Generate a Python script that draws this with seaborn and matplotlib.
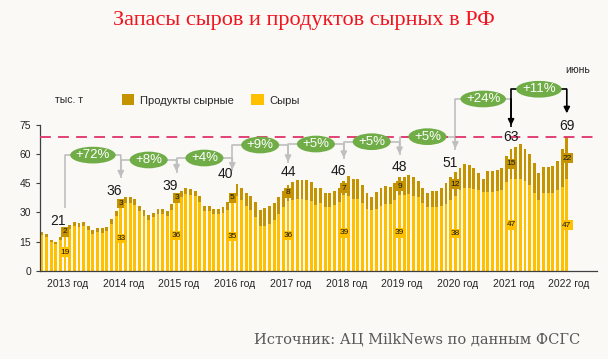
import numpy as np
import pandas as pd
import matplotlib.pyplot as plt
import seaborn as sns
from matplotlib.patches import Ellipse

# годы на оси
years = list(range(2013, 2023))

# сыры, тыс. т, помесячно (январь 2013 - июнь 2022)
cheese = [
    18.5, 17.5, 14.8, 13.6, 15.8, 19.0, 21.5, 23.0, 22.3, 23.0, 20.8, 18.8,  # 2013
    19.8, 19.5, 20.3, 24.0, 28.0, 33.0, 35.0, 35.0, 34.0, 30.5, 28.2, 26.2,  # 2014
    27.5, 29.0, 29.0, 28.3, 31.5, 36.0, 38.0, 39.3, 39.0, 38.2, 35.5, 30.6,  # 2015
    30.8, 29.0, 29.0, 29.6, 31.2, 35.0, 38.5, 36.5, 33.5, 31.0, 27.5, 23.0,  # 2016
    22.8, 24.0, 26.0, 29.0, 33.0, 36.0, 36.5, 37.0, 36.8, 36.5, 36.0, 34.0,  # 2017
    35.0, 33.0, 33.0, 34.0, 35.5, 39.0, 38.5, 37.0, 37.0, 35.0, 32.0, 31.0,  # 2018
    32.0, 33.5, 34.5, 34.5, 36.5, 39.0, 39.0, 39.5, 38.5, 38.0, 35.0, 33.0,  # 2019
    33.0, 33.0, 33.5, 34.5, 36.5, 38.4, 41.5, 42.5, 42.5, 42.0, 41.5, 40.5,  # 2020
    40.5, 40.5, 41.0, 41.5, 45.5, 47.3, 47.0, 47.0, 46.0, 44.0, 40.0, 36.5,  # 2021
    40.0, 40.0, 40.0, 41.5, 43.0, 47.0,                                      # 2022
]

# продукты сырные, тыс. т
products = [
    1.6, 1.4, 1.0, 1.0, 1.4, 2.0, 1.8, 1.9, 2.2, 2.2, 2.2, 2.2,
    2.3, 2.3, 2.3, 2.6, 2.9, 3.0, 3.0, 3.0, 2.8, 3.0, 2.8, 2.6,
    2.3, 2.6, 2.6, 2.6, 2.8, 3.0, 3.0, 3.1, 3.0, 3.0, 2.9, 2.8,
    2.6, 2.6, 2.6, 3.0, 4.3, 5.0, 5.9, 6.2, 6.6, 7.4, 8.0, 8.2,
    9.3, 9.3, 9.0, 8.7, 8.0, 8.0, 9.0, 9.7, 9.9, 10.2, 9.6, 8.4,
    7.7, 7.1, 7.1, 7.0, 6.9, 7.0, 10.2, 10.0, 10.0, 9.1, 7.8, 7.1,
    8.7, 9.2, 9.2, 8.7, 8.8, 9.0, 9.4, 9.7, 9.9, 8.1, 7.4, 6.8,
    8.0, 8.0, 8.9, 10.4, 11.5, 12.4, 11.2, 12.4, 11.9, 10.7, 8.9, 6.5,
    10.8, 10.8, 10.8, 11.2, 13.5, 15.4, 16.8, 18.2, 16.4, 15.9, 15.2, 13.9,
    13.2, 13.2, 13.9, 14.9, 19.4, 22.0,
]

# прирост июнь к июню
growth = ["+72%", "+8%", "+4%", "+9%", "+5%", "+5%", "+5%", "+24%", "+11%"]

C_CHEESE = "#FFC000"
C_PROD = "#C59300"
C_GREEN = "#70AD47"
BG = "#FAF9F6"

sns.set_theme(style="white")
plt.rcParams["font.family"] = ["Liberation Sans", "DejaVu Sans"]

df = pd.DataFrame({"month": np.arange(len(cheese)), "cheese": cheese, "products": products})
df["total"] = df["cheese"] + df["products"]

fig = plt.figure(figsize=(6.08, 3.59), dpi=100)
fig.patch.set_facecolor(BG)
ax = fig.add_axes([39.5 / 608, 1 - 270.7 / 359, (597 - 39.5) / 608, (270.7 - 125) / 359])
ax.set_facecolor(BG)

# столбцы: сначала сумма (продукты сверху), потом сыры
sns.barplot(data=df, x="month", y="total", native_scale=True, width=0.62, color=C_PROD,
            saturation=1, errorbar=None, linewidth=0, label="Продукты сырные", ax=ax)
sns.barplot(data=df, x="month", y="cheese", native_scale=True, width=0.62, color=C_CHEESE,
            saturation=1, errorbar=None, linewidth=0, label="Сыры", ax=ax)

ax.set_xlim(-0.5, 119.5)
ax.set_ylim(0, 75)
ax.set_yticks(range(0, 76, 15))
ax.set_xlabel("")
ax.set_ylabel("")
ax.set_xticks([12 * k + 5.5 for k in range(len(years))], labels=[f"{y} год" for y in years])
ax.set_xticks(np.arange(-0.5, 120, 12), minor=True)
ax.tick_params(axis="x", which="major", length=0, pad=6, labelsize=7.5, labelcolor="#262626")
ax.tick_params(axis="x", which="minor", length=17, width=0.9, color="#404040")
ax.tick_params(axis="y", length=3, width=0.8, color="#404040", labelsize=7.5, pad=3,
               labelcolor="#262626", left=True)
sns.despine(ax=ax)
for s in ["left", "bottom"]:
    ax.spines[s].set_color("#404040")
    ax.spines[s].set_linewidth(0.9)

# красная пунктирная линия на уровне июня 2022
ax.axhline(69, color="#E0336B", lw=1.3, dashes=(6, 4), zorder=4)

# подписи июньских столбцов
june = [12 * k + 5 for k in range(len(years))]
lbl_dy = [4.6, 5.0, 4.6, 10.0, 7.0, 5.5, 5.5, 4.8, 6.0, 5.6]
lbl_dx = [-5, -5, -5, -5, 0, -4, 0, -4, 0, 0]
for k, m in enumerate(june):
    c, p = df.loc[m, "cheese"], df.loc[m, "products"]
    t = c + p
    ax.annotate(f"{round(t)}", xy=(m, t + lbl_dy[k]), xytext=(lbl_dx[k], 0),
                textcoords="offset points", ha="center", va="center", fontsize=10,
                color="#1a1a1a", annotation_clip=False, zorder=6)
    ax.text(m, c + p / 2, f"{round(p)}", ha="center", va="center", fontsize=6,
            color="#1a1a1a", zorder=6,
            bbox=dict(boxstyle="square,pad=0.15", fc=C_PROD, ec="none"))
    ax.text(m, c / 2, f"{round(c)}", ha="center", va="center", fontsize=6,
            color="#1a1a1a", zorder=6,
            bbox=dict(boxstyle="square,pad=0.15", fc=C_CHEESE, ec="none"))

# стрелки и зелёные овалы с приростом
bubble_y = [59.5, 57, 58, 64.7, 65.2, 66.4, 69, 88.4, 93.4]
for i, txt in enumerate(growth):
    x0, x1 = june[i], june[i + 1]
    t0 = df.loc[x0, "total"] + 11.5
    t1 = df.loc[x1, "total"] + 12
    yb = bubble_y[i]
    lc = "#BFBFBF" if i < 8 else "black"
    ac = "#BFBFBF" if i < 7 else "black"
    ax.plot([x0, x0, x1], [t0, yb, yb], color=lc, lw=1.2, clip_on=False, zorder=3,
            solid_capstyle="butt")
    ax.annotate("", xy=(x1, t1), xytext=(x1, yb),
                arrowprops=dict(arrowstyle="-|>", color=ac, lw=1.2, mutation_scale=9,
                                shrinkA=0, shrinkB=0),
                annotation_clip=False, zorder=3)
    w = 9.8 if len(txt) > 3 else 8.2
    ax.add_patch(Ellipse(((x0 + x1) / 2, yb), w, 8.6, fc=C_GREEN, ec="none",
                         clip_on=False, zorder=5))
    ax.text((x0 + x1) / 2, yb, txt, ha="center", va="center", fontsize=9.5,
            color="white", zorder=6)

# легенда
handles, labels = ax.get_legend_handles_labels()
if ax.get_legend() is not None:
    ax.get_legend().remove()
fig.legend(handles, labels, loc="center left", bbox_to_anchor=(122 / 608, 1 - 100 / 359),
           ncol=2, frameon=False, fontsize=8, handlelength=1.1, handleheight=1.1,
           handletextpad=0.5, columnspacing=1.6, borderpad=0, borderaxespad=0)

fig.text(55 / 608, 1 - 100 / 359, "тыс. т", fontsize=7.5, va="center", color="#262626")
fig.text(590 / 608, 1 - 70 / 359, "июнь", fontsize=7.5, ha="right", va="center",
         color="#262626")
fig.text(0.5, 1 - 20 / 359, "Запасы сыров и продуктов сырных в РФ", ha="center",
         va="center", fontsize=16, color="#F0141E", family="Liberation Serif")
fig.text(580 / 608, 1 - 340 / 359, "Источник: АЦ MilkNews по данным ФСГС", ha="right",
         va="center", fontsize=10.5, color="#595959", family="DejaVu Serif")

fig.savefig("out.png", dpi=100, facecolor=BG)
